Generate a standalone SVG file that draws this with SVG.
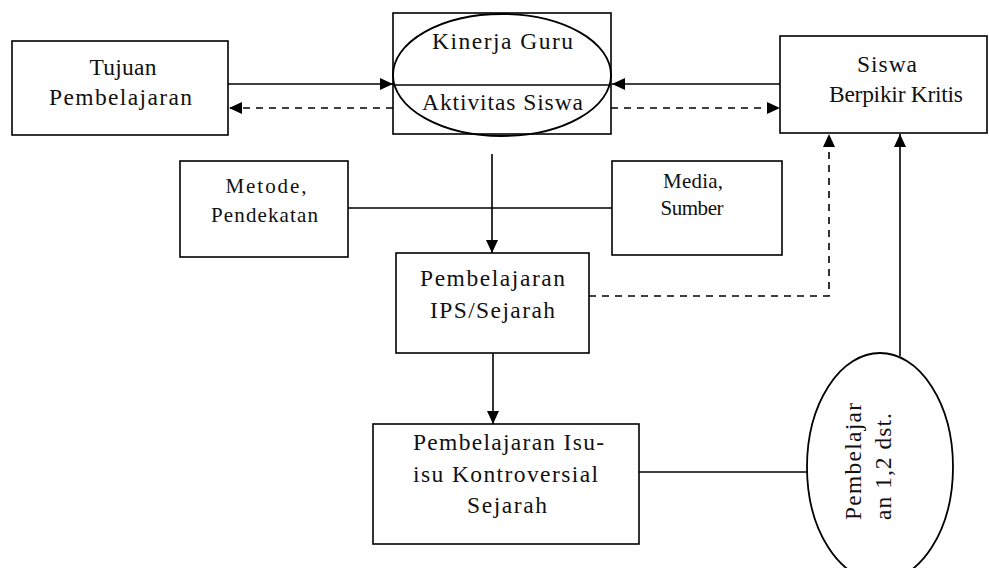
<svg xmlns="http://www.w3.org/2000/svg" width="989" height="568" viewBox="0 0 989 568">
<style>
.box{fill:#fff;stroke:#000;stroke-width:1.6}
.ell{fill:none;stroke:#000;stroke-width:1.8}
.t{font-family:"Liberation Serif","Times New Roman",serif;font-size:23.5px;fill:#111;text-anchor:middle}
.s{font-size:21px}
.c{fill:none;stroke:#000;stroke-width:1.6}
.d{stroke-dasharray:7 6}
</style>
<defs>
<marker id="ah" markerUnits="userSpaceOnUse" markerWidth="14" markerHeight="12" refX="13" refY="6" orient="auto">
<path d="M0,0 L13,6 L0,12 z" fill="#000" stroke="none"/>
</marker>
</defs>
<rect width="989" height="568" fill="#fff"/>
<g id="tujuan">
<rect class="box" x="12" y="41" width="216" height="94"/>
<text class="t" x="123" y="75" textLength="67" lengthAdjust="spacing">Tujuan</text>
<text class="t" x="120.5" y="105" textLength="143" lengthAdjust="spacing">Pembelajaran</text>
</g>
<g id="kinerja">
<rect class="box" x="393" y="13" width="218" height="121"/>
<ellipse class="ell" cx="502" cy="75" rx="109" ry="61"/>
<line x1="393" y1="85" x2="611" y2="85" stroke="#000" stroke-width="1.6"/>
<text class="t" x="502.5" y="49" textLength="141" lengthAdjust="spacing">Kinerja Guru</text>
<text class="t" x="502.5" y="110" textLength="161" lengthAdjust="spacing">Aktivitas Siswa</text>
</g>
<g id="siswa">
<rect class="box" x="780" y="36" width="207" height="97"/>
<text class="t" x="887" y="72" textLength="60" lengthAdjust="spacing">Siswa</text>
<text class="t" x="896" y="102" textLength="134" lengthAdjust="spacing">Berpikir Kritis</text>
</g>
<g id="metode">
<rect class="box" x="180" y="161" width="168" height="96"/>
<text class="t s" x="266" y="193" textLength="81" lengthAdjust="spacing">Metode,</text>
<text class="t s" x="264.5" y="222" textLength="107" lengthAdjust="spacing">Pendekatan</text>
</g>
<g id="media">
<rect class="box" x="612" y="161" width="170" height="94"/>
<text class="t s" x="693" y="188" textLength="60" lengthAdjust="spacing">Media,</text>
<text class="t s" x="692" y="215" textLength="63" lengthAdjust="spacing">Sumber</text>
</g>
<g id="ips">
<rect class="box" x="396" y="253" width="193" height="100"/>
<text class="t" x="492.5" y="286" textLength="145" lengthAdjust="spacing">Pembelajaran</text>
<text class="t" x="492.5" y="318" textLength="125" lengthAdjust="spacing">IPS/Sejarah</text>
</g>
<g id="kontroversial">
<rect class="box" x="373" y="424" width="266" height="120"/>
<text class="t" x="508.5" y="450" textLength="191" lengthAdjust="spacing">Pembelajaran Isu-</text>
<text class="t" x="505.5" y="482" textLength="185" lengthAdjust="spacing">isu Kontroversial</text>
<text class="t" x="507" y="513" textLength="80" lengthAdjust="spacing">Sejarah</text>
</g>
<g id="pembelajar">
<ellipse class="ell" cx="880" cy="467" rx="73" ry="114"/>
<text class="t" x="-520" y="861" transform="rotate(-90)" style="text-anchor:start" textLength="117" lengthAdjust="spacing">Pembelajar</text>
<text class="t" x="-520" y="891" transform="rotate(-90)" style="text-anchor:start" textLength="107" lengthAdjust="spacing">an 1,2 dst.</text>
</g>
<g id="connectors">
<line class="c" x1="228" y1="84" x2="393" y2="84" marker-end="url(#ah)"/>
<line class="c d" x1="393" y1="108" x2="229" y2="108" marker-end="url(#ah)"/>
<line class="c" x1="780" y1="84" x2="612" y2="84" marker-end="url(#ah)"/>
<line class="c d" x1="611" y1="108" x2="780" y2="108" marker-end="url(#ah)"/>
<line class="c" x1="492" y1="154" x2="492" y2="253" marker-end="url(#ah)"/>
<line class="c" x1="348" y1="208" x2="612" y2="208"/>
<polyline class="c d" points="589,296 829,296 829,134" marker-end="url(#ah)"/>
<line class="c" x1="493" y1="353" x2="493" y2="424" marker-end="url(#ah)"/>
<line class="c" x1="639" y1="472" x2="808" y2="472"/>
<line class="c" x1="900" y1="356" x2="900" y2="134" marker-end="url(#ah)"/>
</g>
</svg>
